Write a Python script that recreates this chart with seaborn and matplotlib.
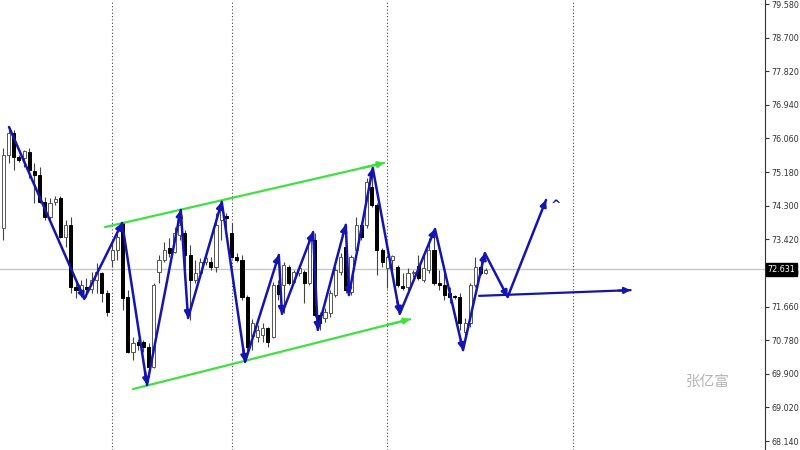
import numpy as np
import pandas as pd
import matplotlib.pyplot as plt
import seaborn as sns

sns.set_style("white")
plt.rcParams['font.family'] = ['DejaVu Sans']

# OHLC bars (bar index = position)
opens = [73.72, 75.63, 76.20, 75.58, 75.55, 75.71, 75.21, 75.10, 74.40, 74.00,
         74.40, 74.50, 73.48, 73.80, 72.17, 72.09, 72.17, 72.12, 72.36, 72.54,
         72.01, 72.88, 73.14, 73.85, 71.91, 70.47, 70.73, 70.73, 70.60, 70.08,
         72.57, 72.88, 73.19, 73.09, 73.53, 73.58, 73.01, 72.36, 72.54, 72.83,
         72.83, 72.70, 73.93, 74.03, 73.58, 72.96, 72.88, 71.91, 70.89, 70.86,
         70.91, 71.10, 70.86, 72.22, 72.22, 72.70, 72.30, 72.54, 72.57, 72.28,
         73.40, 71.44, 71.36, 71.49, 71.96, 72.57, 73.22, 72.04, 73.14, 73.80,
         73.80, 74.79, 74.32, 73.14, 72.67, 72.88, 72.70, 72.20, 72.17, 72.54,
         72.72, 72.36, 72.62, 73.14, 72.28, 72.22, 72.01, 71.93, 71.91, 71.00,
         71.23, 72.22, 72.70, 72.54]
highs = [75.81, 76.33, 76.28, 75.63, 75.76, 75.81, 75.42, 75.31, 74.53, 74.50,
         74.55, 74.55, 73.93, 74.00, 72.36, 72.36, 72.41, 72.57, 72.80, 72.57,
         72.09, 73.32, 73.66, 73.87, 72.09, 70.86, 70.81, 70.78, 70.71, 72.28,
         73.01, 73.35, 73.45, 73.74, 74.00, 73.66, 73.27, 72.88, 72.93, 73.01,
         72.96, 74.11, 74.45, 74.11, 73.85, 73.06, 73.01, 71.96, 71.33, 71.18,
         71.23, 71.13, 72.30, 72.36, 72.83, 72.75, 72.62, 72.75, 72.62, 73.45,
         73.58, 71.52, 71.62, 72.09, 72.70, 73.06, 73.27, 73.01, 74.00, 73.87,
         75.03, 75.24, 74.37, 73.19, 73.01, 73.01, 72.75, 72.54, 72.67, 72.62,
         73.01, 73.06, 73.45, 73.53, 72.62, 72.54, 72.17, 71.96, 72.01, 71.36,
         72.28, 72.96, 72.96, 72.67]
lows = [73.40, 75.42, 75.24, 75.44, 75.31, 75.03, 74.37, 74.37, 73.93, 73.93,
        74.32, 73.45, 73.22, 72.01, 71.88, 71.91, 71.91, 72.01, 72.01, 71.78,
        71.41, 72.70, 72.88, 71.57, 70.44, 70.26, 70.52, 70.47, 69.82, 70.05,
        72.28, 72.83, 72.96, 73.06, 73.40, 72.70, 71.31, 72.28, 72.43, 72.75,
        72.62, 72.57, 73.40, 73.48, 72.93, 72.83, 71.83, 70.34, 70.52, 70.73,
        70.73, 70.60, 70.84, 71.83, 71.49, 72.22, 72.28, 72.46, 71.75, 72.22,
        71.39, 71.05, 71.26, 71.39, 71.91, 72.49, 72.01, 71.96, 73.09, 73.40,
        73.72, 74.27, 72.49, 72.70, 72.15, 72.62, 72.17, 72.09, 72.09, 72.43,
        72.36, 72.30, 72.54, 72.22, 72.09, 71.83, 71.75, 71.86, 71.05, 70.86,
        71.13, 72.17, 72.49, 72.51]
closes = [75.63, 76.20, 75.58, 75.50, 75.73, 75.24, 75.10, 74.40, 74.00, 74.37,
          74.48, 73.48, 73.80, 72.17, 72.09, 72.22, 72.12, 72.36, 72.57, 72.01,
          71.52, 73.14, 73.48, 71.88, 70.47, 70.71, 70.65, 70.60, 70.08, 72.22,
          72.88, 73.14, 73.06, 73.58, 73.80, 73.01, 72.36, 72.54, 72.83, 72.93,
          72.70, 73.80, 74.19, 73.98, 72.96, 72.88, 71.91, 70.60, 71.23, 71.05,
          71.10, 70.73, 72.22, 71.99, 72.75, 72.28, 72.57, 72.67, 72.28, 73.40,
          71.44, 71.23, 71.52, 72.01, 72.62, 72.96, 72.09, 72.96, 73.80, 73.48,
          74.92, 74.32, 73.14, 72.83, 72.96, 72.98, 72.22, 72.15, 72.54, 72.54,
          72.41, 72.67, 73.14, 72.28, 72.22, 71.96, 71.91, 71.91, 71.23, 71.23,
          72.22, 72.70, 72.54, 72.63]

# hand-drawn wave lines (bar index, price)
wave_x = [1.1, 15.6, 22.9, 27.7, 34.2, 35.6, 42.1, 46.6, 53.1, 53.7, 59.7,
          60.6, 66.0, 66.6, 71.2, 76.4, 83.2, 88.6, 92.8, 97.2, 104.6]
wave_y = [76.36, 71.86, 73.85, 69.61, 74.19, 71.36, 74.40, 70.21, 73.01, 71.47,
          73.61, 71.05, 73.80, 71.96, 75.29, 71.47, 73.69, 70.52, 73.06, 71.91,
          74.45]
flat_x = [91.7, 120.9]
flat_y = [71.94, 72.09]
chan_top_x = [19.6, 73.4]
chan_top_y = [73.74, 75.42]
chan_bot_x = [25.0, 78.4]
chan_bot_y = [69.50, 71.33]

separators = [20.9, 44.1, 73.9, 109.8]
yticks = [68.14, 69.02, 69.90, 70.78, 71.66, 72.54, 73.42, 74.30,
          75.18, 76.06, 76.94, 77.82, 78.70, 79.58]
last_price = 72.631

blue = '#1414b0'
green = '#40e040'

fig = plt.figure(figsize=(8, 4.5), dpi=100)
ax = fig.add_axes([0, 0, 765 / 800, 1])

# candles
df = pd.DataFrame({'o': opens, 'h': highs, 'l': lows, 'c': closes})
df['i'] = np.arange(len(df))
up = df['c'] >= df['o']
body = (df['c'] - df['o']).abs().clip(lower=0.03)
low_edge = df[['o', 'c']].min(axis=1)
ax.vlines(df['i'], df['l'], df['h'], color='#444444', lw=0.8, zorder=2)
ax.bar(df['i'][up], body[up], bottom=low_edge[up], width=0.6,
       color='white', edgecolor='#555555', lw=0.7, zorder=3)
ax.bar(df['i'][~up], body[~up], bottom=low_edge[~up], width=0.6,
       color='black', edgecolor='black', lw=0.7, zorder=3)

# current price + period separators
ax.axhline(last_price, color='#c8c8c8', lw=1, zorder=1)
for s in separators:
    ax.axvline(s, color='#444444', lw=0.8, ls=(0, (1, 2)), zorder=1)


def arrow_line(xs, ys, color, lw):
    d = pd.DataFrame({'x': xs, 'y': ys})
    sns.lineplot(data=d, x='x', y='y', sort=False, estimator=None,
                 color=color, lw=lw, ax=ax, zorder=5)
    for k in range(1, len(xs)):
        x0, y0, x1, y1 = xs[k - 1], ys[k - 1], xs[k], ys[k]
        ax.annotate('', xy=(x1, y1),
                    xytext=(x1 - 0.08 * (x1 - x0), y1 - 0.08 * (y1 - y0)),
                    arrowprops=dict(arrowstyle='-|>', color=color, lw=lw,
                                    mutation_scale=9, shrinkA=0, shrinkB=0),
                    zorder=6)


arrow_line(chan_top_x, chan_top_y, green, 1.6)
arrow_line(chan_bot_x, chan_bot_y, green, 1.6)
arrow_line(wave_x, wave_y, blue, 1.8)
arrow_line(flat_x, flat_y, blue, 1.6)
ax.text(106.5, 74.3, '^', color=blue, fontsize=9, fontweight='bold',
        ha='center', va='center')

ax.text(135.8, 69.69, '张亿富', color='#b4b4b4', fontsize=10.5,
        family=['Noto Sans CJK SC', 'DejaVu Sans'], ha='center', va='center')

# axes
ax.set_xlim(-0.64, 146.8)
ax.set_ylim(67.905, 79.685)
ax.set_xticks([])
ax.set_xlabel('')
ax.set_ylabel('')
ax.yaxis.tick_right()
ax.set_yticks(yticks)
ax.set_yticklabels([f'{v:.3f}' for v in yticks])
ax.tick_params(axis='y', labelsize=5.8, labelcolor='#333333', color='#333333',
               length=3, width=0.8, pad=1.5, direction='out')
for side in ['top', 'left', 'bottom']:
    ax.spines[side].set_visible(False)
ax.spines['right'].set_color('#333333')
ax.spines['right'].set_linewidth(0.8)

ax.text(1.003, last_price, f'{last_price:.3f}', transform=ax.get_yaxis_transform(),
        ha='left', va='center', color='white', fontsize=5.8, clip_on=False,
        zorder=10, bbox=dict(facecolor='black', edgecolor='black', pad=1.2))

fig.savefig('out.png', dpi=100)
